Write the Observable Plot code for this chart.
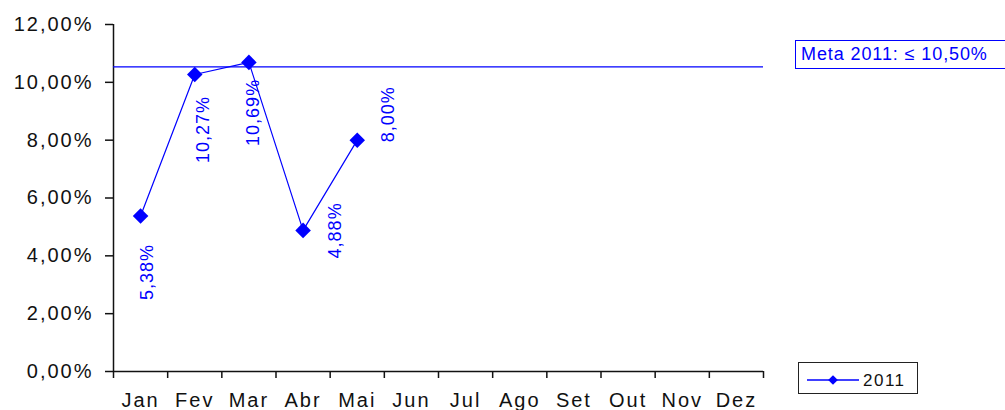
<!DOCTYPE html>
<html>
<head>
<meta charset="utf-8">
<script src="https://cdn.jsdelivr.net/npm/d3@7"></script>
<script src="https://cdn.jsdelivr.net/npm/@observablehq/plot@0.6"></script>
<style>
  html, body { margin: 0; padding: 0; background: #fff; overflow: hidden; }
  #wrap { position: relative; width: 1005px; height: 410px; font-family: "Liberation Sans", Arial, sans-serif; }
  #chart svg text { letter-spacing: 2px; }
  #chart svg g[fill="#0000ff"] text { letter-spacing: 1px; }
  .meta {
    position: absolute; left: 795px; top: 40px; width: 220px; height: 27px;
    border: 1.5px solid #0000ff; color: #0000ff; font-size: 18px; letter-spacing: 0.9px;
    line-height: 27px; padding-left: 5px; box-sizing: content-box; white-space: nowrap;
  }
  .legend {
    position: absolute; left: 798px; top: 362px; width: 118px; height: 30px;
    border: 1.5px solid #222; box-sizing: content-box;
  }
  .legend svg { position: absolute; left: 0; top: 0; }
</style>
</head>
<body>
<div id="wrap">
  <div id="chart"></div>
  <div class="meta" id="meta"></div>
  <div class="legend" id="legend"></div>
</div>
<script>
// ---- data ----
const months = ["Jan", "Fev", "Mar", "Abr", "Mai", "Jun", "Jul", "Ago", "Set", "Out", "Nov", "Dez"];
const seriesName = "2011";
const values2011 = [5.38, 10.27, 10.69, 4.88, 8.00];
const metaValue = 10.5;
const metaLabel = "Meta 2011: ≤ 10,50%";
const yTicks = [0, 2, 4, 6, 8, 10, 12];

// ---- helpers ----
const br = d3.formatLocale({decimal: ",", thousands: ".", grouping: [3], currency: ["R$", ""]});
const pct = v => br.format(".2f")(v) + "%";
const blue = "#0000ff";

const data = values2011.map((v, i) => ({month: months[i], idx: i + 0.5, value: v}));

// label placement (pixel offsets relative to each point), by month
const placement = {
  Jan: [7, 56], Fev: [8, 55], Mar: [4, 50], Abr: [32, 0], Mai: [31, -26]
};

const labelMarks = Object.entries(placement).map(([m, [dx, dy]]) =>
  Plot.text(data.filter(d => d.month === m), {
    x: "idx", y: "value", text: d => pct(d.value),
    rotate: -90, textAnchor: "middle", lineAnchor: "middle",
    dx, dy, fill: blue, fontSize: 18
  })
);

const chart = Plot.plot({
  width: 1005,
  height: 410,
  marginLeft: 113,
  marginRight: 242,
  marginTop: 24,
  marginBottom: 39,
  style: {fontFamily: "'Liberation Sans', Arial, sans-serif", fontSize: "20px", color: "#111", background: "#fff"},
  x: {domain: [0, months.length], axis: null},
  y: {domain: [0, 12], axis: null},
  marks: [
    Plot.axisY({ticks: yTicks, tickFormat: pct, tickSize: 8, tickPadding: 12, label: null, stroke: "#111", fill: "#111", strokeWidth: 1.5}),
    Plot.axisX({ticks: d3.range(0, months.length + 1), tickFormat: () => "", tickSize: 7, label: null, stroke: "#111", strokeWidth: 1.5}),
    Plot.axisX({ticks: months.map((m, i) => i + 0.5), tickFormat: d => months[Math.floor(d)], tickSize: 0, tickPadding: 21, label: null, fill: "#111"}),
    Plot.ruleX([0], {stroke: "#111", strokeWidth: 1.5}),
    Plot.ruleY([0], {stroke: "#111", strokeWidth: 1.5}),
    Plot.ruleY([metaValue], {stroke: blue, strokeWidth: 1.3, dy: -1}),
    Plot.line(data, {x: "idx", y: "value", stroke: blue, strokeWidth: 1.2}),
    Plot.dot(data, {x: "idx", y: "value", symbol: "diamond2", r: 7, fill: blue, stroke: "none"}),
    ...labelMarks
  ]
});
document.getElementById("chart").appendChild(chart);

// meta label box
document.getElementById("meta").textContent = metaLabel;

// legend
const lg = d3.select("#legend").append("svg").attr("width", 118).attr("height", 30);
lg.append("line").attr("x1", 8).attr("x2", 60).attr("y1", 17).attr("y2", 17).attr("stroke", blue).attr("stroke-width", 1.3);
lg.append("path").attr("d", d3.symbol(d3.symbolDiamond2, 60)()).attr("transform", "translate(34,17)").attr("fill", blue);
lg.append("text").attr("x", 64).attr("y", 23).text(seriesName)
  .attr("font-family", "'Liberation Sans', Arial, sans-serif").attr("font-size", 17).attr("letter-spacing", "1.5px").attr("fill", "#111");
</script>
</body>
</html>
